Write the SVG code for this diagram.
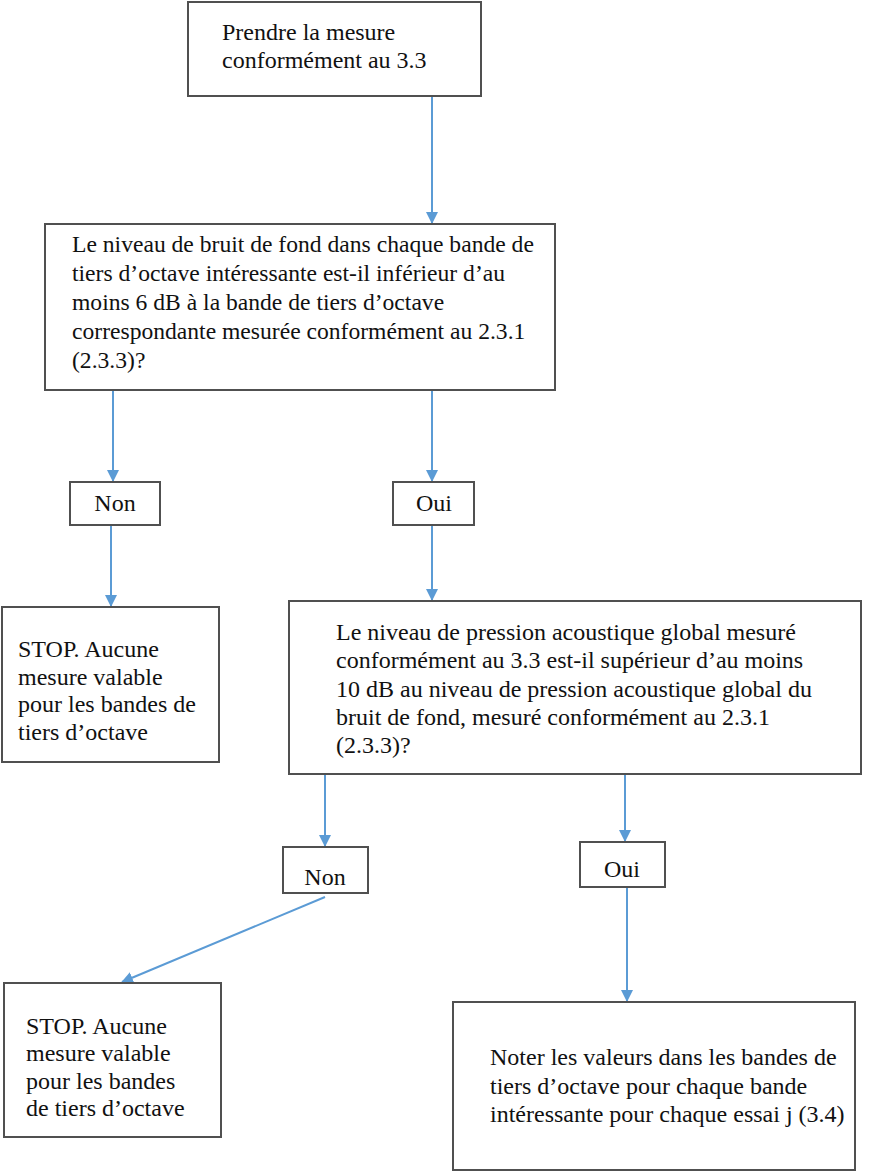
<svg xmlns="http://www.w3.org/2000/svg" width="895" height="1175" viewBox="0 0 895 1175">
<style>
.box{fill:#fff;stroke:#505050;stroke-width:2}
.t{font-family:"Liberation Serif",serif;font-size:24px;fill:#111}
.s{font-size:23.6px}
.c{text-anchor:middle}
.ln{stroke:#5b9bd5;stroke-width:2;fill:none;marker-end:url(#ah)}
</style>
<defs>
<marker id="ah" markerUnits="userSpaceOnUse" markerWidth="12" markerHeight="12" refX="11" refY="6" orient="auto">
<path d="M0,0 L12,6 L0,12 z" fill="#5b9bd5"/>
</marker>
</defs>
<rect width="895" height="1175" fill="#fff"/>
<g id="connectors">
<line class="ln" x1="432" y1="96" x2="432" y2="223"/>
<line class="ln" x1="113" y1="390" x2="113" y2="481"/>
<line class="ln" x1="432" y1="390" x2="432" y2="481"/>
<line class="ln" x1="111" y1="525" x2="111" y2="606"/>
<line class="ln" x1="432" y1="525" x2="432" y2="600"/>
<line class="ln" x1="325" y1="774" x2="325" y2="846"/>
<line class="ln" x1="625" y1="774" x2="625" y2="841"/>
<line class="ln" x1="325" y1="897" x2="122" y2="982"/>
<line class="ln" x1="627" y1="888" x2="627" y2="1001"/>
</g>
<g id="n1">
<rect class="box" x="188" y="2" width="293" height="94"/>
<text class="t" x="222" y="40">Prendre la mesure</text>
<text class="t" x="222" y="68">conformément au 3.3</text>
</g>
<g id="n2">
<rect class="box" x="45" y="224" width="510" height="166"/>
<text class="t s" x="72" y="252">Le niveau de bruit de fond dans chaque bande de</text>
<text class="t s" x="72" y="281">tiers d’octave intéressante est-il inférieur d’au</text>
<text class="t s" x="72" y="310">moins 6 dB à la bande de tiers d’octave</text>
<text class="t s" x="72" y="339">correspondante mesurée conformément au 2.3.1</text>
<text class="t s" x="72" y="368">(2.3.3)?</text>
</g>
<g id="n3">
<rect class="box" x="70" y="482" width="90" height="43"/>
<text class="t c" x="115" y="511">Non</text>
</g>
<g id="n4">
<rect class="box" x="393" y="482" width="81" height="43"/>
<text class="t c" x="434" y="511">Oui</text>
</g>
<g id="n5">
<rect class="box" x="2" y="607" width="217" height="155"/>
<text class="t" x="18" y="657">STOP. Aucune</text>
<text class="t" x="18" y="685">mesure valable</text>
<text class="t" x="18" y="712">pour les bandes de</text>
<text class="t" x="18" y="740">tiers d’octave</text>
</g>
<g id="n6">
<rect class="box" x="289" y="601" width="572" height="173"/>
<text class="t" x="336" y="640">Le niveau de pression acoustique global mesuré</text>
<text class="t" x="336" y="668">conformément au 3.3 est-il supérieur d’au moins</text>
<text class="t" x="336" y="697">10 dB au niveau de pression acoustique global du</text>
<text class="t" x="336" y="725">bruit de fond, mesuré conformément au 2.3.1</text>
<text class="t" x="336" y="753">(2.3.3)?</text>
</g>
<g id="n7">
<rect class="box" x="283" y="847" width="85" height="46"/>
<text class="t c" x="325" y="885">Non</text>
</g>
<g id="n8">
<rect class="box" x="580" y="842" width="85" height="45"/>
<text class="t c" x="622" y="877">Oui</text>
</g>
<g id="n9">
<rect class="box" x="4" y="983" width="217" height="154"/>
<text class="t" x="26" y="1034">STOP. Aucune</text>
<text class="t" x="26" y="1061">mesure valable</text>
<text class="t" x="26" y="1089">pour les bandes</text>
<text class="t" x="26" y="1116">de tiers d’octave</text>
</g>
<g id="n10">
<rect class="box" x="453" y="1002" width="402" height="168"/>
<text class="t" x="490" y="1065">Noter les valeurs dans les bandes de</text>
<text class="t" x="490" y="1094">tiers d’octave pour chaque bande</text>
<text class="t" x="490" y="1122">intéressante pour chaque essai j (3.4)</text>
</g>
</svg>
